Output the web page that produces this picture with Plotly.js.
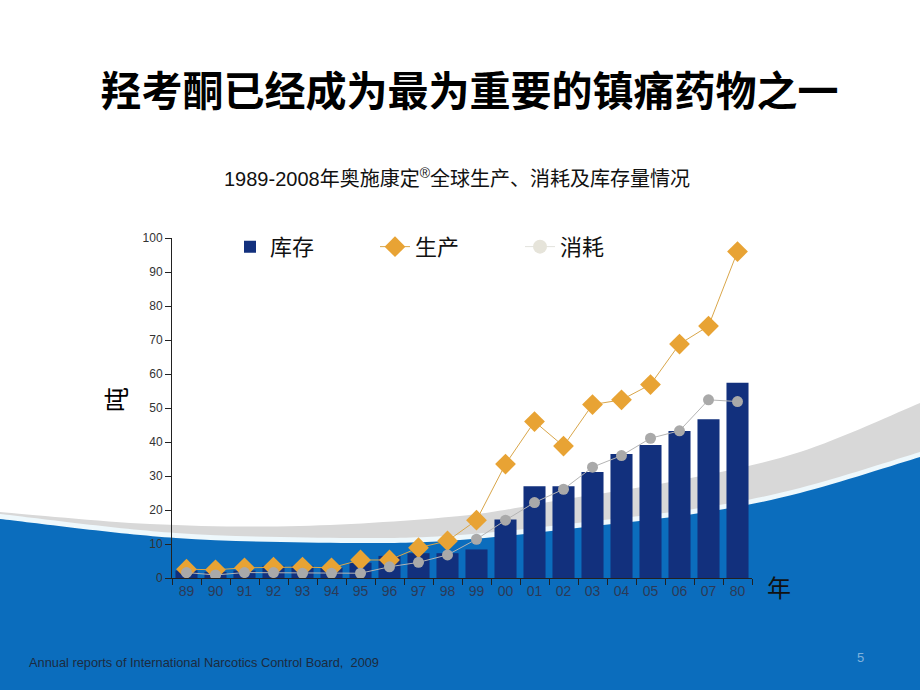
<!DOCTYPE html>
<html>
<head>
<meta charset="utf-8">
<script src="https://cdn.plot.ly/plotly-3.0.1.min.js"></script>
<style>
  html, body { margin: 0; padding: 0; background: #ffffff; }
  #wrap { position: relative; width: 920px; height: 690px; overflow: hidden; }
  #bg { position: absolute; left: 0; top: 0; }
  #chart { position: absolute; left: 0; top: 0; width: 920px; height: 690px; }
</style>
</head>
<body>
<div id="wrap">
  <svg id="bg" width="920" height="690" xmlns="http://www.w3.org/2000/svg"></svg>
  <div id="chart"></div>
</div>
<script>
// ---- data ----
const years = ['1989','1990','1991','1992','1993','1994','1995','1996','1997','1998','1999','2000','2001','2002','2003','2004','2005','2006','2007','2008'];
const tickLabels = ['89','90','91','92','93','94','95','96','97','98','99','00','01','02','03','04','05','06','07','80'];
const stock = [2.2, 1.8, 2.2, 3.6, 3.6, 3.0, 4.5, 6.5, 7.3, 7.3, 8.4, 17.2, 27.0, 27.0, 31.2, 36.5, 39.1, 43.2, 46.7, 57.4];
const production = [2.6, 2.4, 3.0, 3.2, 3.2, 3.0, 5.3, 5.3, 8.9, 10.9, 17.0, 33.5, 46.0, 38.8, 51.0, 52.4, 56.9, 68.8, 74.1, 96.0];
const consumption = [1.6, 0.9, 1.6, 1.6, 1.4, 1.4, 1.4, 3.3, 4.6, 6.8, 11.4, 17.0, 22.2, 26.1, 32.6, 36.0, 41.1, 43.3, 52.4, 51.9];
const seriesNames = ['库存', '生产', '消耗'];

// ---- decorative slide background (wave) ----
function smoothPath(pts) {
  let d = 'M' + pts[0][0] + ',' + pts[0][1];
  for (let i = 0; i < pts.length - 1; i++) {
    const p0 = pts[Math.max(0, i - 1)], p1 = pts[i], p2 = pts[i + 1], p3 = pts[Math.min(pts.length - 1, i + 2)];
    const c1x = p1[0] + (p2[0] - p0[0]) / 6, c1y = p1[1] + (p2[1] - p0[1]) / 6;
    const c2x = p2[0] - (p3[0] - p1[0]) / 6, c2y = p2[1] - (p3[1] - p1[1]) / 6;
    d += ' C' + c1x + ',' + c1y + ' ' + c2x + ',' + c2y + ' ' + p2[0] + ',' + p2[1];
  }
  return d + ' L920,690 L0,690 Z';
}
const grayTop = [[0,512],[150,524],[300,526],[460,516],[560,500],[680,480],[800,452],[920,403]];
const blueTop = [[0,519],[176,538],[352,543],[460,540],[577,528],[700,513],[800,493],[920,457]];
const whiteTop = blueTop.map(p => [p[0], p[1] - 5]);
const svg = document.getElementById('bg');
function addPath(pts, fill) {
  const el = document.createElementNS('http://www.w3.org/2000/svg', 'path');
  el.setAttribute('d', smoothPath(pts));
  el.setAttribute('fill', fill);
  svg.appendChild(el);
}
addPath(grayTop, '#d8d8d8');
addPath(whiteTop, '#eef8fc');
addPath(blueTop, '#0b6dbd');

// ---- chart ----
const cjk = '"Noto Sans CJK SC", "Noto Sans", sans-serif';
const mixed = '"Liberation Sans", "Noto Sans CJK SC", sans-serif';
const traces = [
  {
    type: 'bar', name: seriesNames[0], x: years, y: stock,
    marker: { color: '#12307d' }, showlegend: true
  },
  {
    type: 'scatter', mode: 'lines+markers', name: seriesNames[1], x: years, y: production,
    line: { color: '#d9a64a', width: 1 },
    marker: { symbol: 'diamond', size: 16, color: '#e8a334' }
  },
  {
    type: 'scatter', mode: 'lines+markers', name: seriesNames[2], x: [null], y: [null],
    line: { color: '#e2e2dc', width: 1 },
    marker: { symbol: 'circle', size: 14, color: '#e6e4da' }, showlegend: true
  },
  {
    type: 'scatter', mode: 'lines+markers', name: seriesNames[2], x: years, y: consumption,
    line: { color: '#b4b4b4', width: 1 },
    marker: { symbol: 'circle', size: 11, color: '#a9a9a9' }, showlegend: false
  }
];

const layout = {
  width: 920, height: 690,
  margin: { l: 172, r: 168, t: 238, b: 112 },
  paper_bgcolor: 'rgba(0,0,0,0)',
  plot_bgcolor: 'rgba(0,0,0,0)',
  bargap: 0.24,
  showlegend: true,
  legend: {
    orientation: 'h', x: 0.1, xanchor: 'left', y: 0.974, yanchor: 'middle',
    bgcolor: 'rgba(0,0,0,0)', font: { family: cjk, size: 22, color: '#111' },
    entrywidth: 100, entrywidthmode: 'pixels', traceorder: 'normal'
  },
  title: {
    text: '<b>羟考酮已经成为最为重要的镇痛药物之一</b>',
    font: { family: cjk, size: 41, color: '#000' },
    x: 0.513, xanchor: 'center', y: 1 - 92 / 690, yanchor: 'middle', xref: 'paper', yref: 'container'
  },
  xaxis: {
    type: 'category', range: [-0.5, 19.5], tickvals: years, ticktext: tickLabels,
    tickson: 'boundaries', ticks: 'outside', ticklen: 6, tickcolor: '#222', tickwidth: 1,
    showline: true, linecolor: '#222', linewidth: 1, showgrid: false, zeroline: false,
    tickfont: { family: 'Liberation Sans, Arial, sans-serif', size: 14, color: '#2b3a57' },
    fixedrange: true
  },
  yaxis: {
    range: [0, 100], tickvals: [0,10,20,30,40,50,60,70,80,90,100],
    ticks: 'outside', ticklen: 6, tickcolor: '#222', tickwidth: 1,
    showline: true, linecolor: '#222', linewidth: 1, showgrid: false, zeroline: false,
    tickfont: { family: 'Liberation Sans, Arial, sans-serif', size: 12, color: '#333' },
    fixedrange: true
  },
  annotations: [
    {
      text: '1989-2008年奥施康定<sup>®</sup>全球生产、消耗及库存量情况',
      xref: 'paper', yref: 'paper', x: (457 - 172) / 580, y: (578 - 177) / 340,
      xanchor: 'center', yanchor: 'middle', showarrow: false,
      font: { family: mixed, size: 20, color: '#111' }
    },
    {
      text: '吨', xref: 'paper', yref: 'paper', x: (115 - 172) / 580, y: (578 - 400) / 340,
      xanchor: 'center', yanchor: 'middle', showarrow: false, textangle: -90,
      font: { family: cjk, size: 25, color: '#000' }
    },
    {
      text: '年', xref: 'paper', yref: 'paper', x: (779 - 172) / 580, y: (578 - 586) / 340,
      xanchor: 'center', yanchor: 'middle', showarrow: false,
      font: { family: cjk, size: 24, color: '#111' }
    },
    {
      text: 'Annual reports of International Narcotics Control Board,  2009',
      xref: 'paper', yref: 'paper', x: (27 - 172) / 580, y: (578 - 662) / 340,
      xanchor: 'left', yanchor: 'middle', showarrow: false,
      font: { family: 'Liberation Sans, Arial, sans-serif', size: 12.8, color: '#1c2b40' }
    },
    {
      text: '5', xref: 'paper', yref: 'paper', x: (860 - 172) / 580, y: (578 - 657) / 340,
      xanchor: 'center', yanchor: 'middle', showarrow: false,
      font: { family: 'Liberation Sans, Arial, sans-serif', size: 13, color: '#7fb2dc' }
    }
  ]
};

Plotly.newPlot('chart', traces, layout, { displayModeBar: false, staticPlot: true });
</script>
</body>
</html>
